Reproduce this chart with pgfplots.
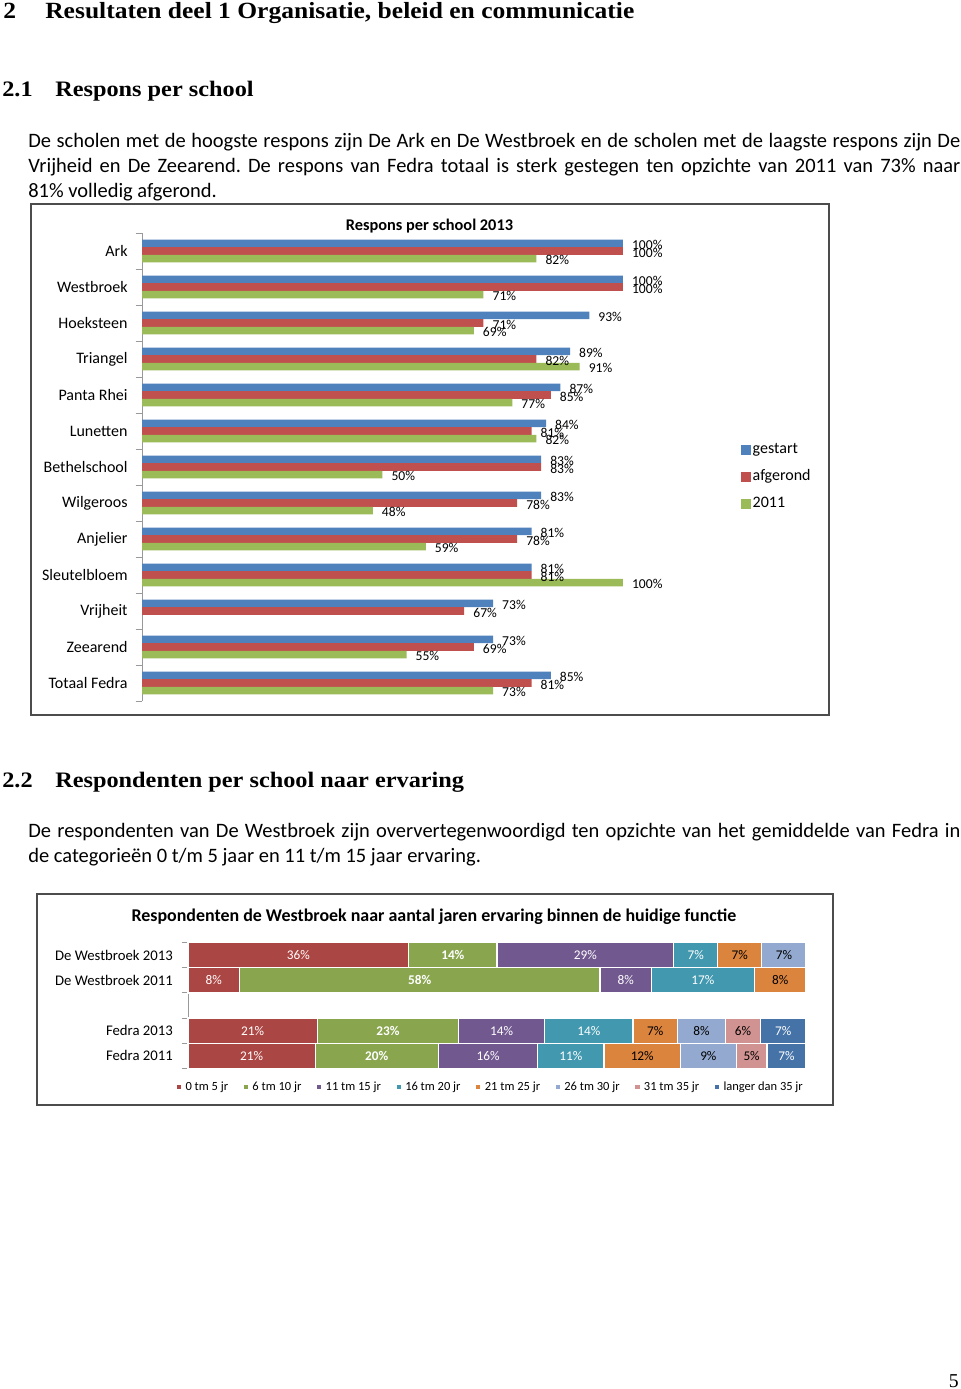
\documentclass[border=0pt]{standalone}
\usepackage{fontspec}
\setmainfont{Carlito}
\newfontfamily\headfont[FakeStretch=1.1]{Liberation Serif}
\newfontfamily\pnfont{Liberation Serif}
\usepackage{pgfplots}
\pgfplotsset{compat=1.18}
\definecolor{gA}{HTML}{4F81BD}
\definecolor{gB}{HTML}{C0504D}
\definecolor{gC}{HTML}{9BBB59}
\definecolor{e1}{HTML}{AA4643}
\definecolor{e2}{HTML}{89A54E}
\definecolor{e3}{HTML}{71588F}
\definecolor{e4}{HTML}{4198AF}
\definecolor{e5}{HTML}{DB843D}
\definecolor{e6}{HTML}{93A9CF}
\definecolor{e7}{HTML}{D19392}
\definecolor{e8}{HTML}{4572A7}
\pgfplotsset{
  sqA/.style={legend image code/.code={\fill[##1] (0pt,-3.1pt) rectangle (6.25pt,3.1pt);}},
  sqB/.style={legend image code/.code={\fill[##1] (0pt,-1.7pt) rectangle (3.4pt,1.7pt);}},
}
\frenchspacing
\begin{document}
\begin{tikzpicture}
\begin{scope}[x=0.625pt,y=-0.625pt]
\fill[white] (0,0) rectangle (960,1389);
% headings
\node[anchor=base west,inner sep=0,font=\headfont\bfseries\fontsize{14.5}{17}\selectfont] at (3,19) {2};
\node[anchor=base west,inner sep=0,font=\headfont\bfseries\fontsize{14.5}{17}\selectfont] at (45,19) {Resultaten deel 1 Organisatie, beleid en communicatie};
\node[anchor=base west,inner sep=0,font=\headfont\bfseries\fontsize{13.8}{16}\selectfont] at (2,97) {2.1};
\node[anchor=base west,inner sep=0,font=\headfont\bfseries\fontsize{13.8}{16}\selectfont] at (55,97) {Respons per school};
\node[anchor=base west,inner sep=0,font=\headfont\bfseries\fontsize{13.8}{16}\selectfont] at (2,787) {2.2};
\node[anchor=base west,inner sep=0,font=\headfont\bfseries\fontsize{13.8}{16}\selectfont] at (55,787) {Respondenten per school naar ervaring};
% paragraphs
\begin{scope}[every node/.style={anchor=base west,inner sep=0,font=\fontsize{12.8}{15.6}\selectfont}]
\node at (28,148) {\makebox[582.5pt][s]{De scholen met de hoogste respons zijn De Ark en De Westbroek en de scholen met de laagste respons zijn De}};
\node at (28,173) {\makebox[582.5pt][s]{Vrijheid en De Zeearend. De respons van Fedra totaal is sterk gestegen ten opzichte van 2011 van 73\% naar}};
\node at (28,198) {81\% volledig afgerond.};
\node at (28,837) {\makebox[582.5pt][s]{De respondenten van De Westbroek zijn oververtegenwoordigd ten opzichte van het gemiddelde van Fedra in}};
\node at (28,862) {de categorieën 0 t/m 5 jaar en 11 t/m 15 jaar ervaring.};
\end{scope}
\node[anchor=base east,inner sep=0,font=\pnfont\fontsize{12.3}{14}\selectfont] at (959,1387) {5};
% frames and titles
\draw[black!70,line width=0.7pt] (31,204) rectangle (829,715);
\node[anchor=base,inner sep=0,font=\bfseries\fontsize{10.2}{12}\selectfont] at (429.5,230) {Respons per school 2013};
\draw[black!70,line width=0.7pt] (37,894) rectangle (833,1105);
\node[anchor=base,inner sep=0,font=\bfseries\fontsize{11.2}{13}\selectfont] at (434,921) {Respondenten de Westbroek naar aantal jaren ervaring binnen de huidige functie};
\end{scope}
% chart 1
\begin{axis}[
  at={(88.75pt,-438.125pt)}, anchor=south west, scale only axis,
  width=300.6pt, height=292.5pt,
  xmin=0, xmax=100, ymin=-0.5, ymax=12.5, y dir=reverse,
  axis x line=none, axis y line*=left,
  y axis line style={black!40,line width=0.6pt},
  xbar, bar width=0.21,
  ytick={0,...,12},
  yticklabels={Ark,Westbroek,Hoeksteen,Triangel,Panta Rhei,Lunetten,Bethelschool,Wilgeroos,Anjelier,Sleutelbloem,Vrijheit,Zeearend,Totaal Fedra},
  yticklabel style={font=\fontsize{10}{12}\selectfont,xshift=-5.5pt},
  major tick length=0pt,
  extra y ticks={-0.5,0.5,...,12.5},
  extra y tick labels={},
  extra y tick style={major tick length=4pt,tick align=outside,tick style={black!40,line width=0.6pt}},
  clip=false,
  point meta=x,
  /pgf/number format/assume math mode=true,
  nodes near coords={\pgfmathprintnumber{\pgfplotspointmeta}\%},
  every node near coord/.append style={font=\fontsize{8.5}{10}\selectfont,black,anchor=west,inner sep=1pt,xshift=4.5pt,yshift=-1pt},
  legend style={at={(axis description cs:1.235,0.479)},anchor=west,draw=none,fill=none,
    font=\fontsize{10}{12}\selectfont,row sep=5.9pt,
    nodes={inner sep=1pt,text height=7pt,text depth=2pt}},
  legend cell align=left,
]
\addplot[fill=gA,draw=none,bar shift=-0.21,sqA] coordinates {(100,0) (100,1) (93,2) (89,3) (87,4) (84,5) (83,6) (83,7) (81,8) (81,9) (73,10) (73,11) (85,12)};
\addplot[fill=gB,draw=none,bar shift=0,sqA] coordinates {(100,0) (100,1) (71,2) (82,3) (85,4) (81,5) (83,6) (78,7) (78,8) (81,9) (67,10) (69,11) (81,12)};
\addplot[fill=gC,draw=none,bar shift=0.21,sqA] coordinates {(82,0) (71,1) (69,2) (91,3) (77,4) (82,5) (50,6) (48,7) (59,8) (100,9) (55,11) (73,12)};
\legend{gestart,afgerond,2011}
\end{axis}
% chart 2
\begin{axis}[
  at={(117.5pt,-667.69pt)}, anchor=south west, scale only axis,
  width=386.25pt, height=78.5pt,
  xmin=0, xmax=100, ymin=-0.5, ymax=4.5, y dir=reverse,
  axis x line=none, axis y line*=left,
  y axis line style={black!40,line width=0.6pt},
  xbar stacked, bar width=1,
  ytick={0,1,3,4},
  yticklabels={De Westbroek 2013,De Westbroek 2011,Fedra 2013,Fedra 2011},
  yticklabel style={font=\fontsize{9.2}{11}\selectfont,xshift=-6pt},
  major tick length=0pt,
  extra y ticks={-0.5,0.5,...,4.5},
  extra y tick labels={},
  extra y tick style={major tick length=4pt,tick align=outside,tick style={black!40,line width=0.6pt}},
  clip=false,
  point meta=explicit symbolic,
  nodes near coords,
  every node near coord/.append style={font=\fontsize{8.3}{10}\selectfont},
  legend columns=8,
  legend style={at={(axis description cs:0.49,-0.151)},anchor=center,draw=none,fill=none,
    font=\fontsize{7.8}{9}\selectfont,
    /tikz/every even column/.append style={column sep=7pt}},
]
\addplot[fill=e1,draw=white,line width=0.8pt,sqB,every node near coord/.append style={white}] coordinates {(35.71,0) [36\%] (8.33,1) [8\%] (20.9,3) [21\%] (20.6,4) [21\%]};
\addplot[fill=e2,draw=white,line width=0.8pt,sqB,every node near coord/.append style={white,font=\bfseries\fontsize{8.3}{10}\selectfont}] coordinates {(14.29,0) [14\%] (58.33,1) [58\%] (22.9,3) [23\%] (19.9,4) [20\%]};
\addplot[fill=e3,draw=white,line width=0.8pt,sqB,every node near coord/.append style={white}] coordinates {(28.57,0) [29\%] (8.33,1) [8\%] (13.9,3) [14\%] (16.1,4) [16\%]};
\addplot[fill=e4,draw=white,line width=0.8pt,sqB,every node near coord/.append style={white}] coordinates {(7.14,0) [7\%] (16.67,1) [17\%] (14.3,3) [14\%] (10.7,4) [11\%]};
\addplot[fill=e5,draw=white,line width=0.8pt,sqB,every node near coord/.append style={black}] coordinates {(7.14,0) [7\%] (8.33,1) [8\%] (7.2,3) [7\%] (12.4,4) [12\%]};
\addplot[fill=e6,draw=white,line width=0.8pt,sqB,every node near coord/.append style={black}] coordinates {(7.14,0) [7\%] (0,1) [] (7.8,3) [8\%] (9.0,4) [9\%]};
\addplot[fill=e7,draw=white,line width=0.8pt,sqB,every node near coord/.append style={black}] coordinates {(0,0) [] (0,1) [] (5.6,3) [6\%] (5.0,4) [5\%]};
\addplot[fill=e8,draw=white,line width=0.8pt,sqB,every node near coord/.append style={white}] coordinates {(0,0) [] (0,1) [] (7.4,3) [7\%] (6.3,4) [7\%]};
\legend{0 tm 5 jr,6 tm 10 jr,11 tm 15 jr,16 tm 20 jr,21 tm 25 jr,26 tm 30 jr,31 tm 35 jr,langer dan 35 jr}
\end{axis}
\end{tikzpicture}
\end{document}
